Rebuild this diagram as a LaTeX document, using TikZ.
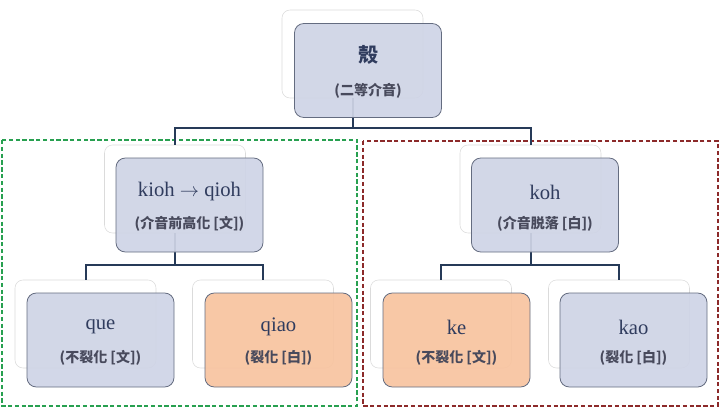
\documentclass[tikz,border=0pt]{standalone}
\usepackage{fontspec}
\setmainfont{Liberation Serif}
\newfontfamily\cjk{Noto Sans CJK TC}
\usetikzlibrary{calc}
\definecolor{lavender}{RGB}{207,212,230}
\definecolor{peach}{RGB}{248,196,160}
\definecolor{boxline}{RGB}{100,108,128}
\definecolor{linkcol}{RGB}{38,58,88}
\definecolor{txtcol}{RGB}{48,60,94}
\definecolor{cjkcol}{RGB}{72,74,92}
\definecolor{wengreen}{RGB}{40,160,80}
\definecolor{baired}{RGB}{140,42,42}
\tikzset{
	backbox/.style={draw=black!14, fill=white, rounded corners=6pt, minimum width=105.75pt, minimum height=66pt, inner sep=0pt},
	mainbox/.style={draw=boxline, line width=0.6pt, fill=lavender, fill opacity=0.93, rounded corners=7pt, minimum width=110.25pt, minimum height=70.5pt, inner sep=0pt},
	peachbox/.style={mainbox, fill=peach},
	romtext/.style={text=txtcol, font=\fontsize{15.5pt}{17pt}\selectfont, inner sep=0pt},
	glosstext/.style={text=cjkcol, font=\cjk\bfseries\fontsize{10.5pt}{12pt}\selectfont, inner sep=0pt},
	link/.style={draw=linkcol, line width=1.5pt},
}
\begin{document}
\begin{tikzpicture}[x=0.75pt,y=0.75pt,yscale=-1,xscale=1]
		\useasboundingbox (0,0) rectangle (720,418);
		% dashed groups
		\draw [wengreen, line width=1.5pt, dash pattern=on 3.3pt off 1.8pt] (2,140) rectangle (357,406) ;
		\draw [baired, line width=1.5pt, dash pattern=on 3.3pt off 1.8pt] (363,141) rectangle (717.5,406) ;
		% back boxes
		\node [backbox] (keb0) at (352.5,54) {};
		\node [backbox] (kiohb) at (175,189) {};
		\node [backbox] (kohb) at (530.5,189) {};
		\node [backbox] (queb) at (85.5,324) {};
		\node [backbox] (qiaob) at (263,324) {};
		\node [backbox] (keb) at (441,324) {};
		\node [backbox] (kaob) at (619,324) {};
		% connectors
		\draw [link] (keb0.south) -- ++(0,30) -| (kiohb.north) ;
		\draw [link] (keb0.south) -- ++(0,30) -| (kohb.north) ;
		\draw [link] (kiohb.south) -- ++(0,32) -| (queb.north) ;
		\draw [link] (kiohb.south) -- ++(0,32) -| (qiaob.north) ;
		\draw [link] (kohb.south) -- ++(0,32) -| (keb.north) ;
		\draw [link] (kohb.south) -- ++(0,32) -| (kaob.north) ;
		% front boxes
		\node [mainbox] (ke0) at ($(keb0)+(15.5,16.5)$) {};
		\node [mainbox] (kioh) at ($(kiohb)+(14.5,16)$) {};
		\node [mainbox] (koh) at ($(kohb)+(14.5,16)$) {};
		\node [mainbox] (que) at ($(queb)+(15,16)$) {};
		\node [peachbox] (qiao) at ($(qiaob)+(15.5,16)$) {};
		\node [peachbox] (ke) at ($(keb)+(15.5,16)$) {};
		\node [mainbox] (kao) at ($(kaob)+(14.5,16)$) {};
		% labels
		\node [glosstext, font=\cjk\bfseries\fontsize{15pt}{16pt}\selectfont, text=txtcol] (ke0a) at ($(ke0)+(0,-15.5)$) {殼};
		\node [glosstext] (ke0b) at ($(ke0)+(0,20)$) {(二等介音)};
		\node [romtext] (kioha) at ($(kioh)+(0,-13)$) {kioh $\rightarrow$ qioh};
		\node [glosstext] (kiohb2) at ($(kioh)+(0,19)$) {(介音前高化 [文])};
		\node [romtext] (koha) at ($(koh)+(0,-13)$) {koh};
		\node [glosstext] (kohb2) at ($(koh)+(0,19)$) {(介音脱落 [白])};
		\node [romtext] (quea) at ($(que)+(0,-13)$) {que};
		\node [glosstext] (queb2) at ($(que)+(0,18)$) {(不裂化 [文])};
		\node [romtext] (qiaoa) at ($(qiao)+(0,-13)$) {qiao};
		\node [glosstext] (qiaob2) at ($(qiao)+(0,18)$) {(裂化 [白])};
		\node [romtext] (kea) at ($(ke)+(0,-13)$) {ke};
		\node [glosstext] (keb2) at ($(ke)+(0,18)$) {(不裂化 [文])};
		\node [romtext] (kaoa) at ($(kao)+(0,-13)$) {kao};
		\node [glosstext] (kaob2) at ($(kao)+(0,18)$) {(裂化 [白])};
\end{tikzpicture}
\end{document}
